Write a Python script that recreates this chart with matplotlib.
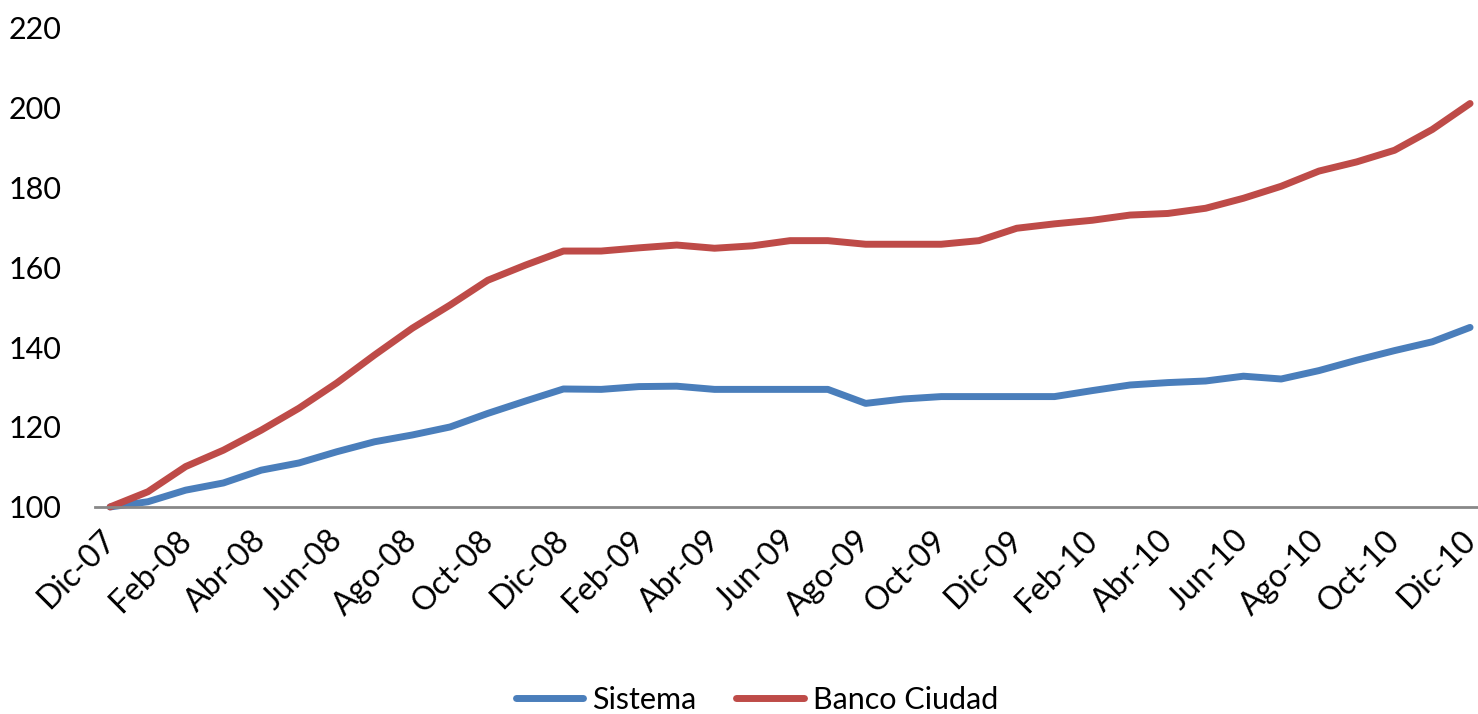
import numpy as np
import matplotlib
matplotlib.use('Agg')
import matplotlib.pyplot as plt
import matplotlib.transforms as mtransforms

plt.rcParams['font.family'] = ['Lato', 'DejaVu Sans']

# monthly index, Dic-07 = 100
months = ['Dic-07', 'Ene-08', 'Feb-08', 'Mar-08', 'Abr-08', 'May-08', 'Jun-08', 'Jul-08', 'Ago-08',
          'Sep-08', 'Oct-08', 'Nov-08', 'Dic-08', 'Ene-09', 'Feb-09', 'Mar-09', 'Abr-09', 'May-09',
          'Jun-09', 'Jul-09', 'Ago-09', 'Sep-09', 'Oct-09', 'Nov-09', 'Dic-09', 'Ene-10', 'Feb-10',
          'Mar-10', 'Abr-10', 'May-10', 'Jun-10', 'Jul-10', 'Ago-10', 'Sep-10', 'Oct-10', 'Nov-10',
          'Dic-10']

sistema = [100, 101.3, 104.2, 106, 109.2, 111, 113.8, 116.3, 118, 120, 123.4, 126.5, 129.5,
           129.4, 130.1, 130.2, 129.4, 129.4, 129.4, 129.4, 125.9, 127, 127.6, 127.6, 127.6,
           127.6, 129.1, 130.5, 131.1, 131.5, 132.7, 132, 134.1, 136.7, 139.1, 141.3, 144.9]

banco_ciudad = [100, 103.8, 110.1, 114.2, 119.2, 124.7, 131, 138, 144.7, 150.5, 156.7, 160.5, 164,
                164, 164.8, 165.5, 164.7, 165.3, 166.6, 166.6, 165.7, 165.7, 165.7, 166.6, 169.7,
                170.8, 171.7, 173, 173.4, 174.7, 177.2, 180.2, 184, 186.3, 189.2, 194.4, 200.9]

yticks = [100, 120, 140, 160, 180, 200, 220]

fig = plt.figure(figsize=(14.78, 7.14), dpi=100)
ax = fig.add_axes([95 / 1478, 0.29, 1 - 95 / 1478, 0.672])

x = np.arange(len(months))
ax.plot(x, sistema, color='#4A7EBB', lw=5, label='Sistema', clip_on=False, solid_capstyle='round')
ax.plot(x, banco_ciudad, color='#BE4B48', lw=5, label='Banco Ciudad', clip_on=False, solid_capstyle='round')

ax.set_xlim(-0.4, 36.21)
ax.set_ylim(100, 220)
ax.set_yticks(yticks)
ax.set_xticks(x[::2])
ax.set_xticklabels(months[::2], rotation=45, ha='right', rotation_mode='anchor', fontsize=23)

for s in ['top', 'right', 'left']:
    ax.spines[s].set_visible(False)
ax.spines['bottom'].set_color('#888888')
ax.spines['bottom'].set_linewidth(2)
ax.tick_params(axis='both', length=0)
ax.tick_params(axis='y', labelsize=22, pad=24)
ax.tick_params(axis='x', pad=10)

# nudge the rotated labels a little left/down so the last one stays inside the figure
# (after tick_params, which resets the label transforms)
shift = mtransforms.ScaledTranslation(-10 / 100, -4 / 100, fig.dpi_scale_trans)
for lbl in ax.get_xticklabels():
    lbl.set_transform(lbl.get_transform() + shift)

fig.legend(loc='center', bbox_to_anchor=(757 / 1478, 1 - 700 / 714), ncol=2, frameon=False,
           fontsize=22, handlelength=2.2, columnspacing=1.3, handletextpad=0.3)

fig.savefig('out.png', dpi=100)
